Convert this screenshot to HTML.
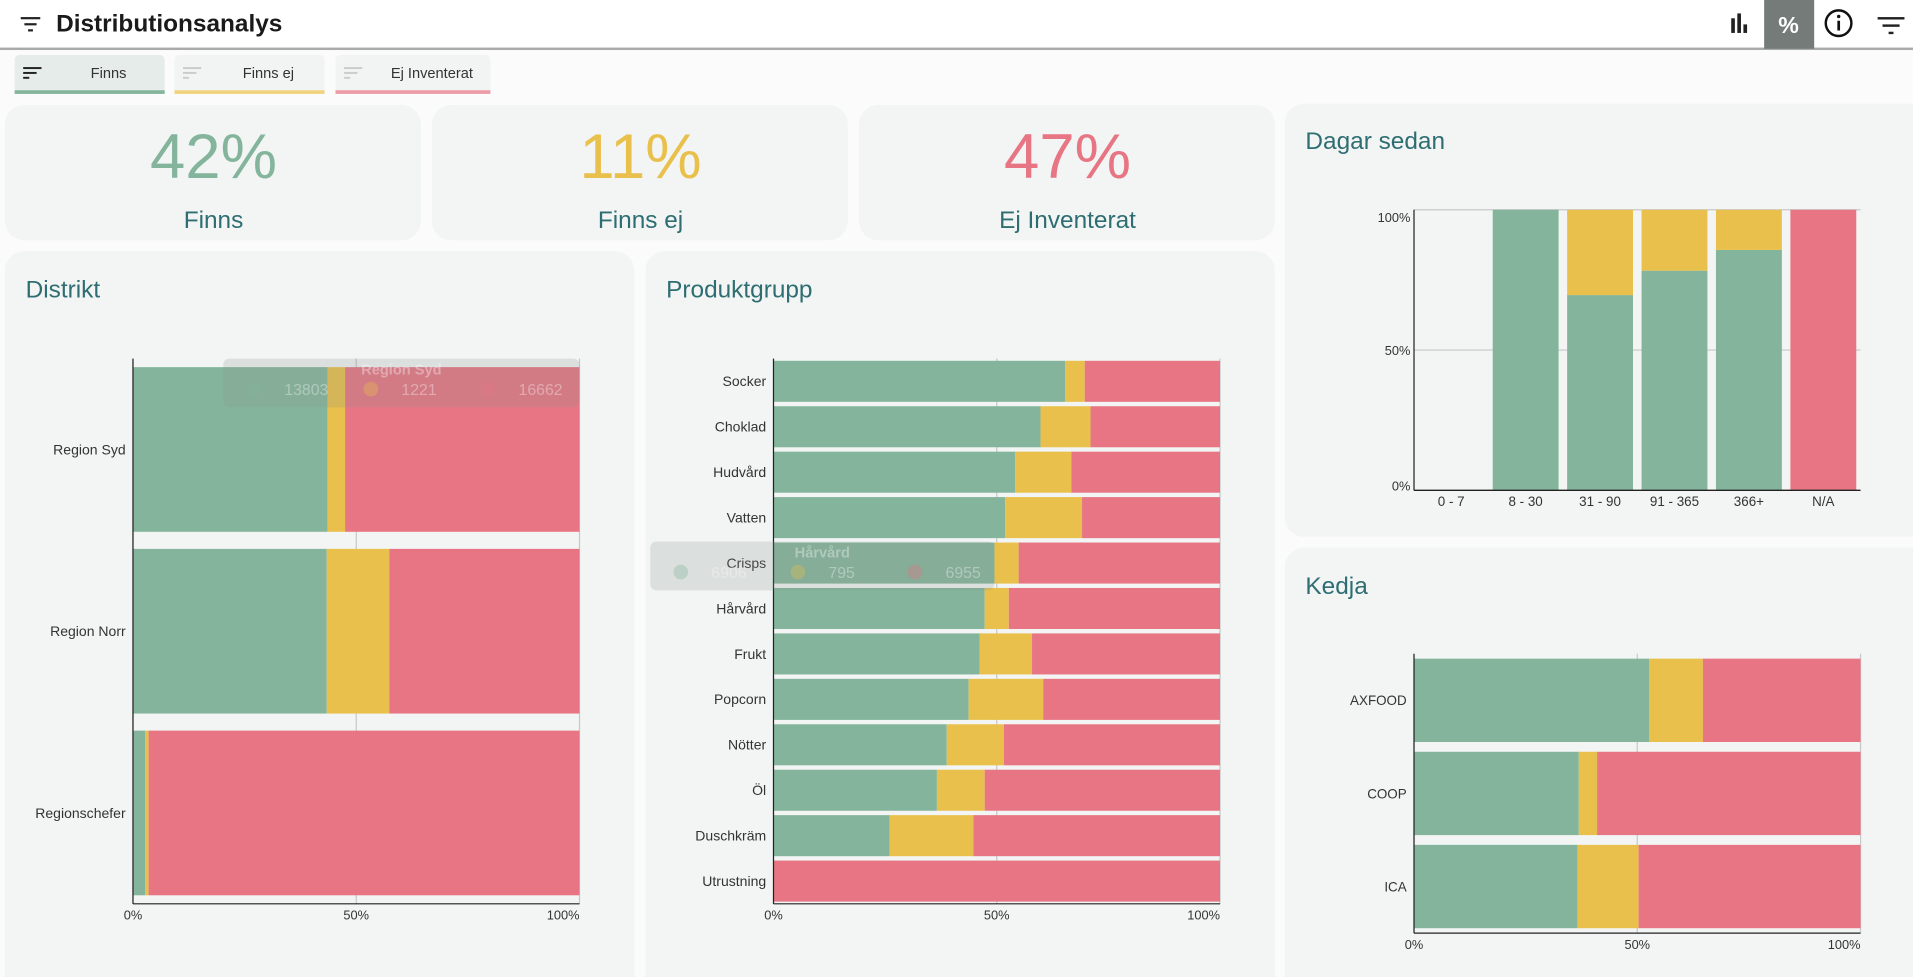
<!DOCTYPE html>
<html><head><meta charset="utf-8"><style>
html,body{margin:0;padding:0;background:#fafbfa;overflow:hidden}
svg{display:block;font-family:"Liberation Sans",sans-serif}
</style></head><body>
<svg id="root" width="1913" height="977" viewBox="0 0 1568 801" preserveAspectRatio="none" xmlns="http://www.w3.org/2000/svg">
<rect x="0" y="0" width="1568" height="801" fill="#fafbfa"/>
<g>
<rect x="0" y="0" width="1568" height="40" fill="#fff"/>
<rect x="0" y="39" width="1568" height="2" fill="#a8abaa"/>
<g fill="#222"><rect x="17" y="14" width="16" height="1.8"/><rect x="20" y="19" width="10" height="1.8"/><rect x="23" y="24" width="4" height="1.8"/></g>
<text x="46" y="26" font-size="20" font-weight="bold" fill="#1a1a1a">Distributionsanalys</text>
<g fill="#222"><rect x="1419" y="15" width="3" height="12"/><rect x="1424" y="11" width="3" height="16"/><rect x="1429" y="20" width="3" height="7"/></g>
<g><rect x="1446" y="0" width="41" height="40" fill="#747b79"/><text x="1466" y="27" font-size="19" font-weight="bold" fill="#fff" text-anchor="middle">%</text></g>
<g><circle cx="1507" cy="19" r="10.5" fill="none" stroke="#111" stroke-width="2"/><rect x="1506" y="17" width="2.2" height="8" fill="#111"/><circle cx="1507.1" cy="13.5" r="1.4" fill="#111"/></g>
<g fill="#222"><rect x="1539" y="14" width="22" height="2"/><rect x="1543" y="20" width="14" height="2"/><rect x="1548" y="26" width="4" height="2"/></g>
</g>
<g><rect x="12" y="45" width="123" height="32" rx="4" fill="#e6ecea"/><rect x="12" y="74" width="123" height="3" fill="#84b59c"/><g fill="#222"><rect x="19" y="55" width="15" height="1.6"/><rect x="19" y="59" width="11" height="1.6"/><rect x="19" y="63" width="5" height="1.6"/></g><text x="89" y="64" font-size="12" fill="#333" text-anchor="middle">Finns</text></g>
<g><rect x="143" y="45" width="123" height="32" rx="4" fill="#f2f4f3"/><rect x="143" y="74" width="123" height="3" fill="#f0d37c"/><g fill="#ccc"><rect x="150" y="55" width="15" height="1.6"/><rect x="150" y="59" width="11" height="1.6"/><rect x="150" y="63" width="5" height="1.6"/></g><text x="220" y="64" font-size="12" fill="#333" text-anchor="middle">Finns ej</text></g>
<g><rect x="275" y="45" width="127" height="32" rx="4" fill="#f2f4f3"/><rect x="275" y="74" width="127" height="3" fill="#ec9aa5"/><g fill="#ccc"><rect x="282" y="55" width="15" height="1.6"/><rect x="282" y="59" width="11" height="1.6"/><rect x="282" y="63" width="5" height="1.6"/></g><text x="354" y="64" font-size="12" fill="#333" text-anchor="middle">Ej Inventerat</text></g>
<g><rect x="4" y="86" width="341" height="111" rx="16" fill="#f2f5f4"/><text x="175" y="146" font-size="52" fill="#84b59c" text-anchor="middle">42%</text><text x="175" y="187" font-size="20" fill="#2e6e72" text-anchor="middle">Finns</text></g>
<g><rect x="354" y="86" width="341" height="111" rx="16" fill="#f2f5f4"/><text x="525" y="146" font-size="52" fill="#e9c04b" text-anchor="middle">11%</text><text x="525" y="187" font-size="20" fill="#2e6e72" text-anchor="middle">Finns ej</text></g>
<g><rect x="704" y="86" width="341" height="111" rx="16" fill="#f2f5f4"/><text x="875" y="146" font-size="52" fill="#e77583" text-anchor="middle">47%</text><text x="875" y="187" font-size="20" fill="#2e6e72" text-anchor="middle">Ej Inventerat</text></g>
<g><rect x="4" y="206" width="516" height="610" rx="16" fill="#f2f5f4"/><text x="21" y="244" font-size="20" fill="#2e6e72">Distrikt</text></g>
<g><rect x="529" y="206" width="516" height="610" rx="16" fill="#f2f5f4"/><text x="546" y="244" font-size="20" fill="#2e6e72">Produktgrupp</text></g>
<g><rect x="1053" y="85" width="530" height="355" rx="16" fill="#f2f5f4"/><text x="1070" y="122" font-size="20" fill="#2e6e72">Dagar sedan</text></g>
<g><rect x="1053" y="449" width="530" height="370" rx="16" fill="#f2f5f4"/><text x="1070" y="487" font-size="20" fill="#2e6e72">Kedja</text></g>
<g id="charts"></g>
</svg>
<script>
const NS='http://www.w3.org/2000/svg';
const COLORS=['#84b59c','#e9c04b','#e77583'];
const distriktCats=['Region Syd','Region Norr','Regionschefer'];
const distriktFinns=[43.6,43.4,2.7];
const distriktFinnsEj=[3.9,14.0,0.8];
const distriktEj=[52.5,42.6,96.5];
const produktCats=['Socker','Choklad','Hudvård','Vatten','Crisps','Hårvård','Frukt','Popcorn','Nötter','Öl','Duschkräm','Utrustning'];
const produktFinns=[65.3,59.8,54.1,51.9,49.5,47.3,46.2,43.7,38.8,36.6,26.0,0];
const produktFinnsEj=[4.4,11.2,12.6,17.2,5.4,5.4,11.7,16.7,12.8,10.7,18.8,0];
const produktEj=[30.3,29.0,33.3,30.9,45.1,47.3,42.1,39.6,48.4,52.7,55.2,100];
const kedjaCats=['AXFOOD','COOP','ICA'];
const kedjaFinns=[52.7,36.9,36.6];
const kedjaFinnsEj=[12.0,4.1,13.7];
const kedjaEj=[35.3,59.0,49.7];
const dagarCats=['0 - 7','8 - 30','31 - 90','91 - 365','366+','N/A'];
const dagarFinns=[0,100,69.6,78.3,85.7,0];
const dagarFinnsEj=[0,0,30.4,21.7,14.3,0];
const dagarEj=[0,0,0,0,0,100];
const pctTicks=['0%','50%','100%'];
const tickVals=[0,50,100];
const root=document.getElementById('charts');
function mk(tag,attrs,parent){const e=document.createElementNS(NS,tag);for(const k in attrs)e.setAttribute(k,attrs[k]);(parent||root).appendChild(e);return e;}
function hbar(name,cats,s1,s2,s3,x0,x1,y0,y1,pad,labelSize){
  const g=mk('g',{});
  
  
  const sx=v=>x0+(x1-x0)*v/100;
  const band=(y1-y0)/cats.length;
  tickVals.forEach((t,i)=>{
    const gl=mk('line',{x1:sx(t),x2:sx(t),y1:y0,y2:y1,stroke:'#c8c8c8','stroke-width':1},g);
    
    
    const tx=mk('text',{x:sx(t),y:y1+13,'font-size':10.5,fill:'#333','text-anchor':i==2?'end':'middle'},g);
    tx.textContent=pctTicks[i];
    
    
  });
  cats.forEach((c,i)=>{
    const by=y0+band*i+pad, bh=band-2*pad;
    let acc=0;
    [s1,s2,s3].forEach((s,k)=>{
      const w=s[i];
      if(w>0){
        const r=mk('rect',{x:sx(acc),y:by,width:sx(acc+w)-sx(acc),height:bh,fill:COLORS[k]},g);
        
        
      }
      acc+=w;
    });
    const lb=mk('text',{x:x0-6,y:by+bh/2+4,'font-size':labelSize,fill:'#333','text-anchor':'end'},g);
    lb.textContent=c;
    
    
  });
  const ax=mk('line',{x1:x0,x2:x0,y1:y0,y2:y1,stroke:'#222','stroke-width':1},g);
  
  
  const bx=mk('line',{x1:x0,x2:x1,y1:y1,y2:y1,stroke:'#222','stroke-width':1},g);
  
  
  return g;
}
hbar('distrikt',distriktCats,distriktFinns,distriktFinnsEj,distriktEj,109,475,294,741,7,11.5);
hbar('produktgrupp',produktCats,produktFinns,produktFinnsEj,produktEj,634,1000,294,741,1.8,11.5);
hbar('kedja',kedjaCats,kedjaFinns,kedjaFinnsEj,kedjaEj,1159,1525,536,765,4,11);
(function(){
  const g=mk('g',{});
  
  
  const x0=1159,x1=1525,y0=172,y1=402;
  const sy=v=>y1-(y1-y0)*v/100;
  const band=(x1-x0)/dagarCats.length;
  tickVals.forEach((t,i)=>{
    const gl=mk('line',{x1:x0,x2:x1,y1:sy(t),y2:sy(t),stroke:'#c8c8c8','stroke-width':1},g);
    
    
    const tx=mk('text',{x:x0-3,y:sy(t)+(i==2?10:i==0?0:4),'font-size':10.5,fill:'#333','text-anchor':'end'},g);
    tx.textContent=pctTicks[i];
    
    
  });
  dagarCats.forEach((c,i)=>{
    const bx=x0+band*i+3.5, bw=band-7;
    let acc=0;
    [dagarFinns,dagarFinnsEj,dagarEj].forEach((s,k)=>{
      const v=s[i];
      if(v>0){
        const r=mk('rect',{x:bx,y:sy(acc+v),width:bw,height:sy(acc)-sy(acc+v),fill:COLORS[k]},g);
        
        
      }
      acc+=v;
    });
    const lb=mk('text',{x:bx+bw/2,y:y1+13,'font-size':11,fill:'#333','text-anchor':'middle'},g);
    lb.textContent=c;
    
    
  });
  const ax=mk('line',{x1:x0,x2:x0,y1:y0,y2:y1,stroke:'#222'},g);
  
  
  const bx2=mk('line',{x1:x0,x2:x1,y1:y1,y2:y1,stroke:'#222','stroke-width':1.2},g);
  
  
})();
function tip(name,x,y,w,title,vals){
  const g=mk('g',{});
  
  
  mk('rect',{x:x,y:y,width:w,height:40,rx:5,fill:'#8a908e',opacity:0.22},g);
  const t=mk('text',{x:x+w/2,y:y+13,'font-size':12,'font-weight':'bold',fill:'#ffffff',opacity:0.35,'text-anchor':'middle'},g);t.textContent=title;
  vals.forEach((v,i)=>{
    const cx=x+25+i*96;
    mk('circle',{cx:cx,cy:y+25,r:6,fill:COLORS[i],opacity:0.35},g);
    const tv=mk('text',{x:cx+25,y:y+30,'font-size':13,fill:'#ffffff',opacity:0.35},g);tv.textContent=v;
  });
}
tip('tooltip-region-syd',183,294,292,'Region Syd',['13803','1221','16662']);
tip('tooltip-harvard',533,444,282,'Hårvård',['6906','795','6955']);
</script>
</body></html>
